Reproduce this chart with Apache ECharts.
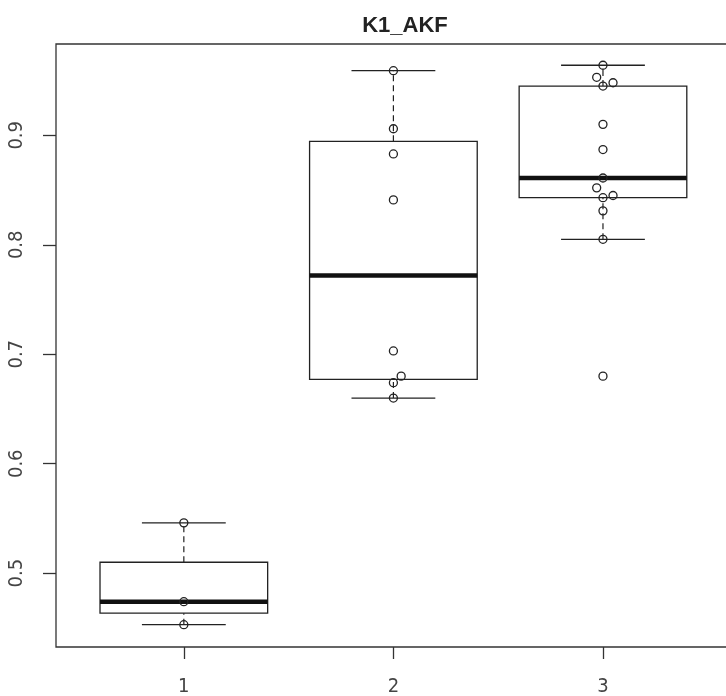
<!DOCTYPE html>
<html>
<head>
<meta charset="utf-8">
<script src="https://cdn.jsdelivr.net/npm/echarts@6/dist/echarts.min.js"></script>
<style>
  html, body { margin: 0; padding: 0; background: #fff; }
  #chart { width: 726px; height: 696px; }
</style>
</head>
<body>
<div id="chart"></div>
<script>
// ---- data ----
const titleText = 'K1_AKF';
const categories = [1, 2, 3];
const xTickLabels = ['1', '2', '3'];
const yTicks = [0.5, 0.6, 0.7, 0.8, 0.9];

// box statistics (Tukey hinges) per group
const whiskerLow  = [0.453, 0.660, 0.805];
const hingeLow    = [0.4635, 0.677, 0.843];
const medians     = [0.474, 0.772, 0.861];
const hingeHigh   = [0.510, 0.8945, 0.945];
const whiskerHigh = [0.546, 0.959, 0.964];

// individual observations and their horizontal jitter (category units)
const group1Values = [0.453, 0.474, 0.546];
const group1Jitter = [0, 0, 0];
const group2Values = [0.660, 0.674, 0.680, 0.703, 0.841, 0.883, 0.906, 0.959];
const group2Jitter = [0, 0, 0.037, 0, 0, 0, 0, 0];
const group3Values = [0.964, 0.953, 0.948, 0.945, 0.910, 0.887, 0.861, 0.852, 0.843, 0.845, 0.831, 0.805, 0.680];
const group3Jitter = [0, -0.03, 0.048, 0, 0, 0, 0, -0.03, 0, 0.048, 0, 0, 0];

// ---- build ----
const groups = [
  [group1Values, group1Jitter],
  [group2Values, group2Jitter],
  [group3Values, group3Jitter]
];
const pointData = [];
groups.forEach(function (g, i) {
  g[0].forEach(function (v, j) {
    pointData.push([categories[i] + g[1][j], v]);
  });
});
const boxData = categories.map(function (c, i) {
  return [c, whiskerLow[i], hingeLow[i], medians[i], hingeHigh[i], whiskerHigh[i]];
});

const ink = '#222';
const labelFont = '"Liberation Sans Narrow", "DejaVu Sans Condensed", "Liberation Sans", sans-serif';
const chart = echarts.init(document.getElementById('chart'));

function renderBox(params, api) {
  const x = api.value(0);
  const halfBox = 0.4, halfCap = 0.2;
  const pLow = api.coord([x, api.value(1)]);
  const pQ1 = api.coord([x, api.value(2)]);
  const pMed = api.coord([x, api.value(3)]);
  const pQ3 = api.coord([x, api.value(4)]);
  const pHigh = api.coord([x, api.value(5)]);
  const xl = api.coord([x - halfBox, 0])[0];
  const xr = api.coord([x + halfBox, 0])[0];
  const cl = api.coord([x - halfCap, 0])[0];
  const cr = api.coord([x + halfCap, 0])[0];
  const cx = pMed[0];
  const thin = { stroke: ink, lineWidth: 1.3, fill: null };
  const dashed = { stroke: ink, lineWidth: 1.2, lineDash: [6, 4], fill: null };
  return {
    type: 'group',
    children: [
      { type: 'line', shape: { x1: cx, y1: pLow[1], x2: cx, y2: pQ1[1] }, style: dashed },
      { type: 'line', shape: { x1: cx, y1: pQ3[1], x2: cx, y2: pHigh[1] }, style: dashed },
      { type: 'line', shape: { x1: cl, y1: pLow[1], x2: cr, y2: pLow[1] }, style: thin },
      { type: 'line', shape: { x1: cl, y1: pHigh[1], x2: cr, y2: pHigh[1] }, style: thin },
      { type: 'rect', shape: { x: xl, y: pQ3[1], width: xr - xl, height: pQ1[1] - pQ3[1] }, style: thin },
      { type: 'line', shape: { x1: xl, y1: pMed[1], x2: xr, y2: pMed[1] }, style: { stroke: '#111', lineWidth: 4.5 } }
    ]
  };
}

chart.setOption({
  animation: false,
  backgroundColor: '#fff',
  title: {
    text: titleText,
    left: 400,
    textAlign: 'center',
    top: 10,
    textStyle: { fontFamily: 'Liberation Sans, Arial, sans-serif', fontWeight: 'bold', fontSize: 22, color: '#222' }
  },
  grid: {
    left: 56, top: 44, width: 679, height: 603,
    outerBoundsMode: 'none',
    containLabel: false,
    show: true, borderColor: '#333', borderWidth: 1.3, backgroundColor: 'transparent'
  },
  xAxis: {
    type: 'value', min: 0.39, max: 3.63,
    splitLine: { show: false },
    axisLine: { show: false },
    axisTick: { show: true, length: 12, customValues: categories, lineStyle: { color: '#333', width: 1.3 } },
    axisLabel: {
      customValues: categories,
      formatter: function (v) { return xTickLabels[categories.indexOf(v)]; },
      margin: 30, fontFamily: labelFont, fontSize: 20, color: '#444'
    }
  },
  yAxis: {
    type: 'value', min: 0.4326, max: 0.9834,
    splitLine: { show: false },
    axisLine: { show: false },
    axisTick: { show: true, length: 13, customValues: yTicks, lineStyle: { color: '#333', width: 1.3 } },
    axisLabel: {
      customValues: yTicks, rotate: 90,
      formatter: function (v) { return v.toFixed(1); },
      margin: 29, fontFamily: labelFont, fontSize: 20, color: '#444'
    }
  },
  series: [
    {
      type: 'custom',
      renderItem: renderBox,
      data: boxData,
      encode: { x: 0, y: [1, 2, 3, 4, 5] },
      z: 2,
      silent: true
    },
    {
      type: 'scatter',
      data: pointData,
      symbol: 'circle',
      symbolSize: 8,
      itemStyle: { color: 'rgba(0,0,0,0)', borderColor: ink, borderWidth: 1.3, opacity: 1 },
      z: 3,
      silent: true
    }
  ]
});
</script>
</body>
</html>
